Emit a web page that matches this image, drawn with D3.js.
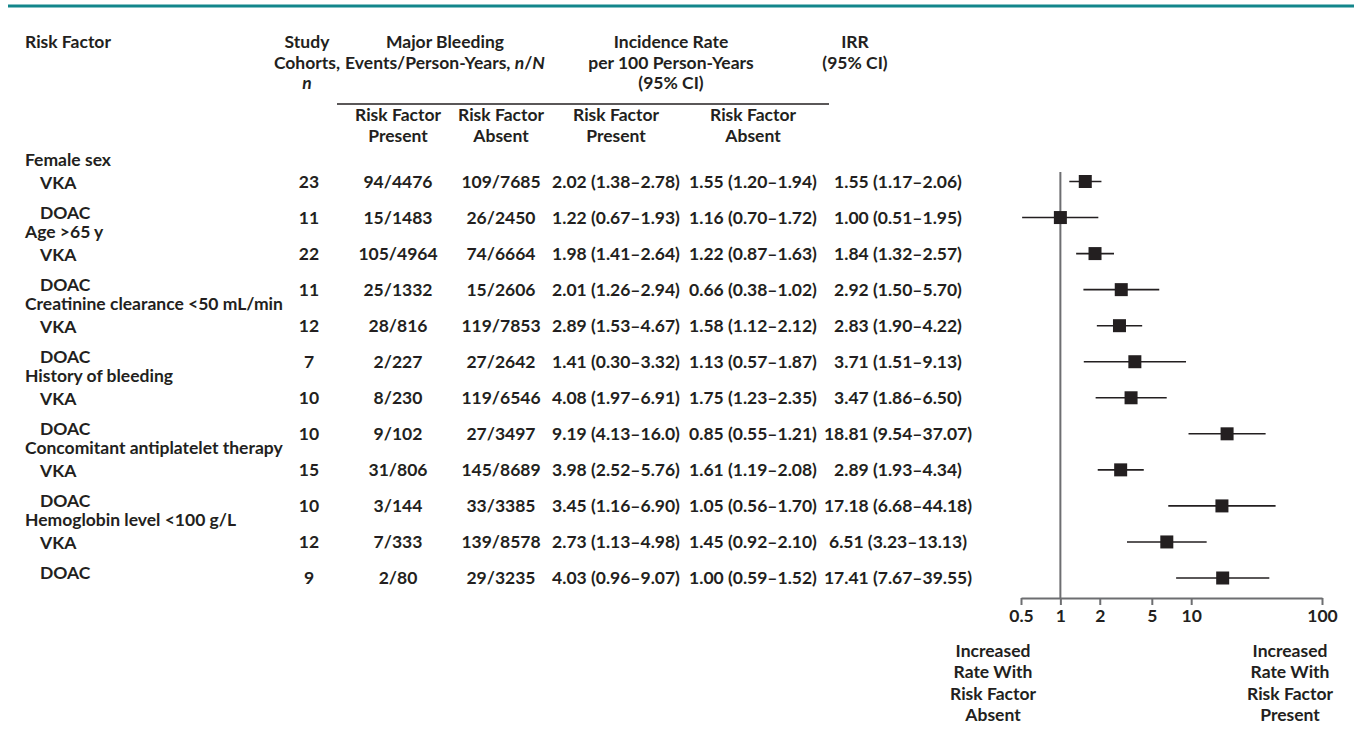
<!DOCTYPE html>
<html>
<head>
<meta charset="utf-8">
<script src="https://cdn.jsdelivr.net/npm/d3@7"></script>
<style>
  html, body { margin: 0; padding: 0; background: #fff; }
  svg text { font-family: Lato, "Open Sans", sans-serif; font-weight: 700; fill: #231f20; }
</style>
</head>
<body>
<svg id="chart" width="1354" height="744"></svg>
<script>
// Risk factors and the anticoagulant subgroups within each
const riskFactors = ["Female sex", "Age >65 y", "Creatinine clearance <50 mL/min",
  "History of bleeding", "Concomitant antiplatelet therapy", "Hemoglobin level <100 g/L"];
const therapies = ["VKA", "DOAC"];

// One entry per subgroup row, in drawing order (VKA then DOAC for each factor)
const cohorts = [23, 11, 22, 11, 12, 7, 10, 10, 15, 10, 12, 9];
const eventsPresent = ["94/4476", "15/1483", "105/4964", "25/1332", "28/816", "2/227",
  "8/230", "9/102", "31/806", "3/144", "7/333", "2/80"];
const eventsAbsent = ["109/7685", "26/2450", "74/6664", "15/2606", "119/7853", "27/2642",
  "119/6546", "27/3497", "145/8689", "33/3385", "139/8578", "29/3235"];
const ratePresent = ["2.02 (1.38–2.78)", "1.22 (0.67–1.93)", "1.98 (1.41–2.64)", "2.01 (1.26–2.94)",
  "2.89 (1.53–4.67)", "1.41 (0.30–3.32)", "4.08 (1.97–6.91)", "9.19 (4.13–16.0)",
  "3.98 (2.52–5.76)", "3.45 (1.16–6.90)", "2.73 (1.13–4.98)", "4.03 (0.96–9.07)"];
const rateAbsent = ["1.55 (1.20–1.94)", "1.16 (0.70–1.72)", "1.22 (0.87–1.63)", "0.66 (0.38–1.02)",
  "1.58 (1.12–2.12)", "1.13 (0.57–1.87)", "1.75 (1.23–2.35)", "0.85 (0.55–1.21)",
  "1.61 (1.19–2.08)", "1.05 (0.56–1.70)", "1.45 (0.92–2.10)", "1.00 (0.59–1.52)"];

// Incidence rate ratios with 95% confidence limits
const irr = [1.55, 1.00, 1.84, 2.92, 2.83, 3.71, 3.47, 18.81, 2.89, 17.18, 6.51, 17.41];
const irrLow = [1.17, 0.51, 1.32, 1.50, 1.90, 1.51, 1.86, 9.54, 1.93, 6.68, 3.23, 7.67];
const irrHigh = [2.06, 1.95, 2.57, 5.70, 4.22, 9.13, 6.50, 37.07, 4.34, 44.18, 13.13, 39.55];

// Axis ticks for the log-scaled IRR panel
const tickValues = [0.5, 1, 2, 5, 10, 100];
const tickLabels = ["0.5", "1", "2", "5", "10", "100"];

const svg = d3.select("#chart");
const ink = "#231f20";
const grey = "#6d6e71";
const fs = 17.5;
const mid = 6.3; // baseline offset that centres cap-height text on a row

const rows = d3.range(irr.length);
const y = d3.scalePoint().domain(rows).range([181.5, 578]);
const x = d3.scaleLog().domain([0.5, 100]).range([1021, 1322]);

// Teal rule across the top
svg.append("line").attr("x1", 8).attr("x2", 1354).attr("y1", 6).attr("y2", 6)
  .attr("stroke", "#13868b").attr("stroke-width", 3);

// Column headers
function multiline(lines, cx, y0, dy, anchor) {
  const t = svg.append("text").attr("text-anchor", anchor || "middle").attr("font-size", fs);
  lines.forEach((l, i) => {
    const ts = t.append("tspan").attr("x", cx).attr("y", y0 + i * dy);
    if (typeof l === "string") ts.text(l);
    else l.forEach(part => ts.append("tspan").attr("font-style", part.i ? "italic" : null).text(part.t));
  });
  return t;
}
multiline(["Risk Factor"], 25, 48, 0, "start");
multiline(["Study", "Cohorts,", [{ t: "n", i: true }]], 307, 48, 20.5);
multiline(["Major Bleeding", [{ t: "Events/Person-Years, " }, { t: "n", i: true }, { t: "/" }, { t: "N", i: true }]], 445, 48, 20.5);
multiline(["Incidence Rate", "per 100 Person-Years", "(95% CI)"], 671, 48, 20.5);
multiline(["IRR", "(95% CI)"], 855, 48, 20.5);

svg.append("line").attr("x1", 337).attr("x2", 829).attr("y1", 104).attr("y2", 104)
  .attr("stroke", ink).attr("stroke-width", 1.3);

const colPresent = 398, colAbsent = 501, colRateP = 616, colRateA = 753, colIrr = 898, colN = 309;
[colPresent, colAbsent, colRateP, colRateA].forEach((cx, i) => {
  multiline(["Risk Factor", i % 2 === 0 ? "Present" : "Absent"], cx, 121, 21);
});

// Row labels: risk factor name above its VKA row, therapy names indented
riskFactors.forEach((rf, g) => {
  svg.append("text").attr("x", 25).attr("y", y(g * 2) - 22 + mid).attr("font-size", fs).text(rf);
});
rows.forEach(i => {
  const isVka = i % 2 === 0;
  svg.append("text").attr("x", 40).attr("y", y(i) + (isVka ? 1 : -5) + mid)
    .attr("font-size", fs).text(therapies[i % 2]);
});

// Table values
function column(values, cx) {
  svg.append("g").selectAll("text").data(values).join("text")
    .attr("x", cx).attr("y", (d, i) => y(i) + mid)
    .attr("text-anchor", "middle").attr("font-size", fs).text(d => d);
}
column(cohorts, colN);
column(eventsPresent, colPresent);
column(eventsAbsent, colAbsent);
column(ratePresent, colRateP);
column(rateAbsent, colRateA);
column(irr.map((v, i) => `${v.toFixed(2)} (${irrLow[i].toFixed(2)}–${irrHigh[i].toFixed(2)})`), colIrr);

// Forest plot
const axisY = 598;
svg.append("line").attr("x1", x(1)).attr("x2", x(1)).attr("y1", 172).attr("y2", axisY)
  .attr("stroke", grey).attr("stroke-width", 2);

const forest = svg.append("g");
forest.selectAll("line.ci").data(rows).join("line").attr("class", "ci")
  .attr("x1", i => x(irrLow[i])).attr("x2", i => x(irrHigh[i]))
  .attr("y1", i => y(i)).attr("y2", i => y(i))
  .attr("stroke", ink).attr("stroke-width", 1.6);
const sq = 13;
forest.selectAll("rect").data(rows).join("rect")
  .attr("x", i => x(irr[i]) - sq / 2).attr("y", i => y(i) - sq / 2)
  .attr("width", sq).attr("height", sq).attr("fill", ink);

const axis = d3.axisBottom(x).tickValues(tickValues).tickFormat((d, i) => tickLabels[i])
  .tickSize(7).tickSizeOuter(0).tickPadding(5);
const ag = svg.append("g").attr("transform", `translate(0,${axisY})`).call(axis);
ag.select(".domain").attr("stroke", grey).attr("stroke-width", 2);
ag.selectAll(".tick line").attr("stroke", grey).attr("stroke-width", 2);
ag.selectAll(".tick text").attr("font-size", fs).attr("font-family", "Lato, sans-serif")
  .attr("font-weight", 700).attr("fill", ink);

// Direction labels under the axis
multiline(["Increased", "Rate With", "Risk Factor", "Absent"], 993, 657, 21.3);
multiline(["Increased", "Rate With", "Risk Factor", "Present"], 1290, 657, 21.3);
</script>
</body>
</html>
